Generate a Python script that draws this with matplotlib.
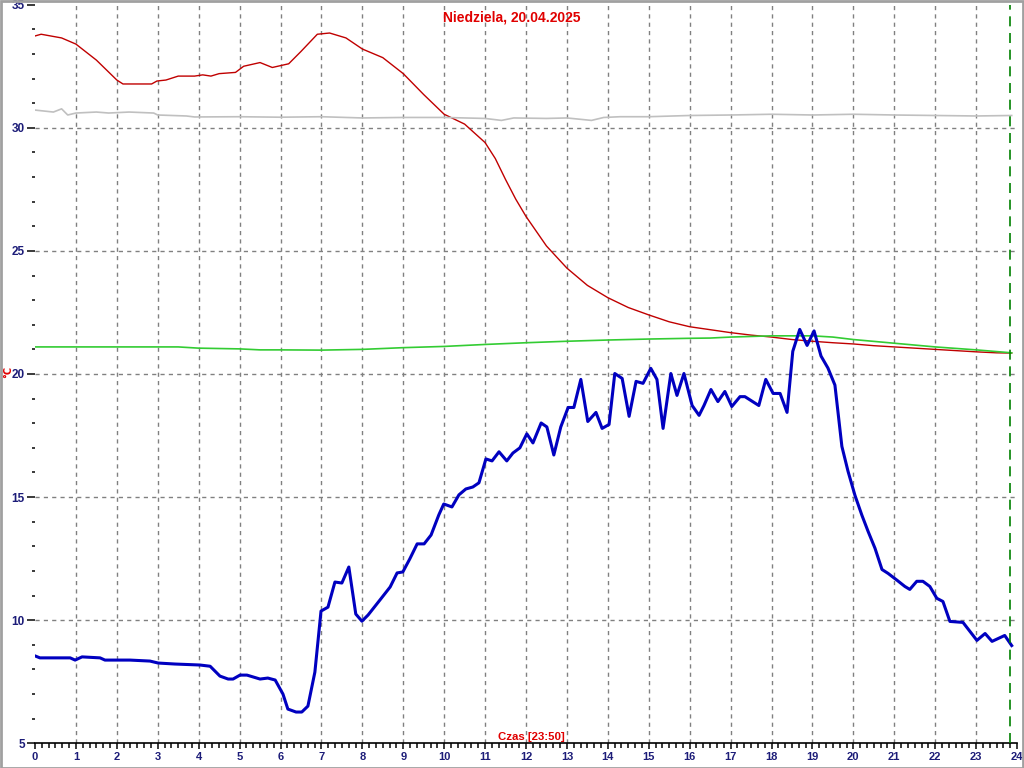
import matplotlib
matplotlib.use("Agg")
import matplotlib.pyplot as plt
from matplotlib.ticker import MultipleLocator
from matplotlib.patches import Rectangle

title = "Niedziela, 20.04.2025"
xlabel = "Czas [23:50]"
ylabel = "°C"
now_hour = 23 + 50 / 60

# Blue (main temperature)
blue_h = [0.00, 0.12, 0.86, 0.98, 1.15, 1.59, 1.71, 2.32, 2.81, 3.01, 3.42, 4.03, 4.28, 4.52, 4.72,
          4.84, 5.01, 5.18, 5.50, 5.69, 5.87, 6.06, 6.18, 6.38, 6.52, 6.67, 6.84, 6.99, 7.16, 7.33,
          7.50, 7.67, 7.84, 7.99, 8.14, 8.43, 8.68, 8.85, 8.99, 9.16, 9.34, 9.51, 9.68, 9.87, 9.99,
          10.19, 10.36, 10.53, 10.70, 10.85, 11.02, 11.17, 11.34, 11.53, 11.68, 11.85, 12.02, 12.17,
          12.37, 12.51, 12.68, 12.85, 13.03, 13.17, 13.34, 13.51, 13.71, 13.86, 14.03, 14.17, 14.35,
          14.52, 14.69, 14.86, 15.05, 15.20, 15.35, 15.54, 15.69, 15.86, 16.06, 16.23, 16.35, 16.52,
          16.69, 16.86, 17.03, 17.23, 17.35, 17.69, 17.86, 18.04, 18.21, 18.38, 18.52, 18.69, 18.87,
          19.04, 19.21, 19.38, 19.55, 19.72, 19.87, 20.04, 20.21, 20.36, 20.53, 20.70, 20.85, 21.07,
          21.26, 21.38, 21.55, 21.70, 21.87, 22.04, 22.19, 22.36, 22.68, 23.02, 23.22, 23.39, 23.70,
          23.87]
blue_t = [8.55, 8.47, 8.47, 8.38, 8.51, 8.47, 8.38, 8.38, 8.34, 8.26, 8.22, 8.18, 8.13, 7.73, 7.61,
          7.61, 7.77, 7.77, 7.61, 7.65, 7.57, 7.00, 6.39, 6.27, 6.27, 6.51, 7.89, 10.37, 10.53, 11.55,
          11.51, 12.16, 10.25, 9.96, 10.21, 10.82, 11.35, 11.92, 11.96, 12.49, 13.10, 13.10, 13.46,
          14.28, 14.72, 14.60, 15.09, 15.33, 15.41, 15.58, 16.55, 16.47, 16.84, 16.47, 16.79, 17.00,
          17.57, 17.20, 18.01, 17.85, 16.71, 17.85, 18.64, 18.64, 19.78, 18.07, 18.44, 17.79, 17.95,
          20.02, 19.82, 18.28, 19.70, 19.62, 20.23, 19.78, 17.79, 20.02, 19.13, 20.02, 18.72, 18.32,
          18.72, 19.37, 18.88, 19.29, 18.68, 19.08, 19.08, 18.72, 19.78, 19.21, 19.21, 18.44, 20.92,
          21.81, 21.16, 21.75, 20.73, 20.24, 19.55, 17.06, 16.05, 15.07, 14.26, 13.61, 12.92, 12.06,
          11.90, 11.62, 11.37, 11.25, 11.58, 11.58, 11.37, 10.89, 10.76, 9.95, 9.91, 9.18, 9.46, 9.14,
          9.38, 8.97]

# Red
red_h = [0.0, 0.15, 0.65, 1.0, 1.5, 2.0, 2.15, 2.85, 2.98, 3.2, 3.5, 3.9, 4.1, 4.3, 4.5, 4.9, 5.1,
         5.5, 5.8, 6.2, 6.5, 6.9, 7.2, 7.6, 8.0, 8.5, 9.0, 9.5, 10.0, 10.5, 11.0, 11.25, 11.5, 11.75,
         12.0, 12.5, 13.0, 13.5, 14.0, 14.5, 15.0, 15.5, 16.0, 16.5, 17.0, 17.5, 18.0, 18.5, 19.0,
         19.5, 20.0, 20.5, 21.0, 21.5, 22.0, 22.5, 23.0, 23.5, 23.87]
red_t = [33.73, 33.8, 33.65, 33.4, 32.75, 31.94, 31.78, 31.78, 31.9, 31.94, 32.1, 32.1, 32.15, 32.1,
         32.2, 32.25, 32.5, 32.65, 32.45, 32.6, 33.1, 33.8, 33.85, 33.65, 33.2, 32.85, 32.2, 31.35,
         30.55, 30.15, 29.4, 28.75, 27.9, 27.1, 26.4, 25.2, 24.3, 23.6, 23.1, 22.7, 22.4, 22.12,
         21.92, 21.8, 21.68, 21.58, 21.5, 21.4, 21.33, 21.27, 21.22, 21.15, 21.1, 21.05, 21.0,
         20.95, 20.9, 20.86, 20.85]

# Gray
gray_h = [0.0, 0.45, 0.65, 0.8, 1.0, 1.5, 1.8, 2.3, 2.9, 3.0, 3.7, 3.9, 5.0, 6.0, 7.0, 8.0, 9.0,
          10.0, 11.0, 11.4, 11.7, 12.5, 13.0, 13.6, 13.9, 14.3, 15.0, 16.0, 17.0, 18.0, 19.0, 20.0,
          21.0, 22.0, 23.0, 23.87]
gray_t = [30.72, 30.64, 30.77, 30.52, 30.6, 30.64, 30.6, 30.64, 30.6, 30.52, 30.48, 30.44, 30.45,
          30.43, 30.45, 30.4, 30.42, 30.42, 30.38, 30.3, 30.4, 30.38, 30.4, 30.3, 30.42, 30.45,
          30.45, 30.5, 30.52, 30.55, 30.52, 30.55, 30.52, 30.5, 30.48, 30.5]

# Green
green_h = [0.0, 3.5, 4.0, 5.0, 5.5, 6.0, 7.0, 8.0, 9.0, 10.0, 11.0, 12.0, 13.0, 14.0, 15.0, 16.0,
           16.5, 17.0, 18.0, 19.0, 19.5, 20.0, 21.0, 22.0, 23.0, 23.87]
green_t = [21.1, 21.1, 21.05, 21.02, 20.98, 20.98, 20.97, 21.0, 21.07, 21.12, 21.2, 21.27, 21.33,
           21.38, 21.42, 21.45, 21.46, 21.5, 21.55, 21.55, 21.5, 21.4, 21.25, 21.1, 20.98, 20.86]

x_ticks = list(range(0, 25))
y_ticks = [5, 10, 15, 20, 25, 30, 35]

W, H = 1024, 768
fig = plt.figure(figsize=(W / 100, H / 100), dpi=100)
ax = fig.add_axes([35 / W, (H - 743.3) / H, (1017 - 35) / W, (743.3 - 4.7) / H])
ax.set_xlim(0, 24)
ax.set_ylim(5, 35)

tick_color = "#1c1c78"
for h in range(1, 24):
    ax.axvline(h, color="#808080", lw=1, ls=(0, (3, 3)), zorder=1)
for t in [10, 15, 20, 25, 30]:
    ax.axhline(t, color="#808080", lw=1, ls=(0, (3, 3)), zorder=1)

ax.plot(red_h, red_t, color="#c00000", lw=1, zorder=3)
ax.plot(gray_h, gray_t, color="#c0c0c0", lw=1.2, zorder=3)
ax.plot(green_h, green_t, color="#33cc33", lw=1.2, zorder=3)
ax.plot(blue_h, blue_t, color="#0000c0", lw=2.2, zorder=4)
ax.axvline(now_hour, color="#008000", lw=1.2, ls=(0, (6, 4)), zorder=5)

for s in ["top", "right", "left"]:
    ax.spines[s].set_visible(False)
ax.spines["bottom"].set_color("black")
ax.spines["bottom"].set_linewidth(1.2)

px = 0.72  # points per pixel at dpi 100
ax.set_xticks(x_ticks)
ax.set_xticklabels([str(v) for v in x_ticks])
ax.xaxis.set_minor_locator(MultipleLocator(1 / 6))
ax.set_yticks(y_ticks)
ax.set_yticklabels([str(v) for v in y_ticks])
ax.yaxis.set_minor_locator(MultipleLocator(1))
ax.tick_params(axis="x", which="major", direction="out", length=6 * px, width=1.5 * px,
               color="black", labelsize=8, labelcolor=tick_color, pad=3 * px)
ax.tick_params(axis="x", which="minor", direction="out", length=5 * px, width=1.5 * px,
               color="black")
ax.tick_params(axis="y", which="major", direction="out", length=8 * px, width=1.5 * px,
               color="black", labelsize=8.5, labelcolor=tick_color, pad=2 * px)
ax.tick_params(axis="y", which="minor", direction="out", length=3 * px, width=1.5 * px,
               color="black")
for lab in ax.get_xticklabels() + ax.get_yticklabels():
    lab.set_fontweight("bold")
    lab.set_family("Liberation Sans")

fig.text(512 / W, 1 - 17 / H, title, color="#e00000", fontsize=10, fontweight="bold",
         ha="center", va="center", family="Liberation Sans")
fig.text(531 / W, 1 - 737 / H, xlabel, color="#e00000", fontsize=8.2, fontweight="bold",
         ha="center", va="center", family="Liberation Sans")
fig.text(3 / W, 1 - 372 / H, ylabel, color="#e00000", fontsize=7, fontweight="bold",
         ha="left", va="center", rotation=90, family="DejaVu Sans")

fig.add_artist(Rectangle((0.5 / W, 0.5 / H), 1 - 1.5 / W, 1 - 1.5 / H, transform=fig.transFigure,
                         fill=False, edgecolor="#a0a0a0", lw=2))

fig.savefig("out.png", dpi=100)
